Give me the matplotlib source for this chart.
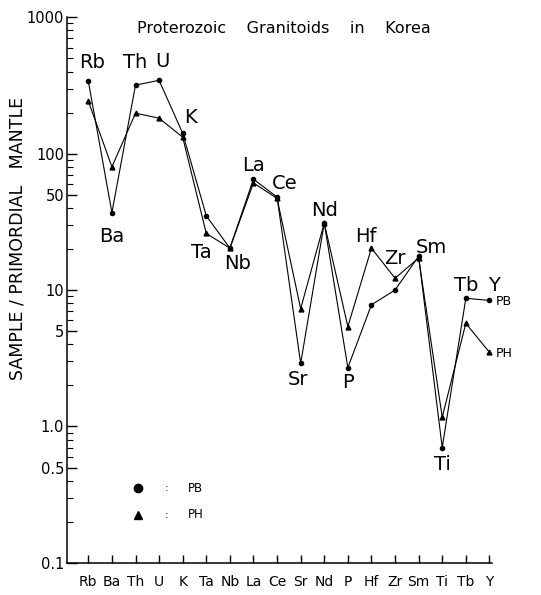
import numpy as np
import matplotlib
matplotlib.use("Agg")
import matplotlib.pyplot as plt
from matplotlib.ticker import LogLocator, FixedLocator, FixedFormatter, NullFormatter

plt.rcParams['font.family'] = ['DejaVu Sans']

# element order of the spider diagram
elements = ['Rb', 'Ba', 'Th', 'U', 'K', 'Ta', 'Nb', 'La', 'Ce',
            'Sr', 'Nd', 'P', 'Hf', 'Zr', 'Sm', 'Ti', 'Tb', 'Y']

# sample / primordial mantle
pb = [340, 37, 318, 345, 141, 35, 20.3, 65, 48,
      2.9, 31, 2.7, 7.8, 10.0, 17.7, 0.70, 8.7, 8.4]
ph = [243, 80, 198, 182, 132, 26, 20.3, 61, 47,
      7.3, 31, 5.4, 20.3, 12.2, 17.2, 1.17, 5.7, 3.5]

# label offsets (pixels) for the element names, anchored to the marked series
label_pos = {
    'Rb': (0, 4, 19), 'Ba': (0, 0, -24), 'Th': (0, 0, 23), 'U': (0, 3, 19),
    'K': (0, 8, 16), 'Ta': (1, -5, -19), 'Nb': (0, 8, -15), 'La': (0, 0, 14),
    'Ce': (0, 8, 14), 'Sr': (0, -3, -16), 'Nd': (0, 0, 13), 'P': (0, 0, -15),
    'Hf': (1, -6, 12), 'Zr': (1, 0, 20), 'Sm': (0, 13, 9), 'Ti': (0, 0, -17),
    'Tb': (0, 0, 13), 'Y': (0, 5, 15),
}

fig = plt.figure(figsize=(5.41, 5.95), dpi=100)
ax = fig.add_axes([0.124, 0.054, 0.785, 0.917])

x = np.arange(len(elements))
ax.plot(x, pb, '-', color='black', lw=0.8, marker='o', ms=3)
ax.plot(x, ph, '-', color='black', lw=0.8, marker='^', ms=3.5)

for i, el in enumerate(elements):
    which, dx, dy = label_pos[el]
    yv = pb[i] if which == 0 else ph[i]
    ax.annotate(el, (i, yv), xytext=(dx, dy), textcoords='offset pixels',
                ha='center', va='center', fontsize=14)

ax.annotate('PB', (x[-1], pb[-1]), xytext=(6, -1), textcoords='offset pixels',
            ha='left', va='center', fontsize=9)
ax.annotate('PH', (x[-1], ph[-1]), xytext=(6, -1), textcoords='offset pixels',
            ha='left', va='center', fontsize=9)

ax.set_yscale('log')
ax.set_ylim(0.1, 1000)
ax.set_xlim(-0.9, 17.1)

ax.set_xticks(x)
ax.set_xticklabels(elements, fontsize=10)
ax.tick_params(axis='x', direction='in', length=6, width=1, pad=9)

yt = [0.1, 0.5, 1.0, 5, 10, 50, 100, 1000]
ax.yaxis.set_major_locator(FixedLocator(yt))
ax.yaxis.set_major_formatter(FixedFormatter(['0.1', '0.5', '1.0', '5', '10', '50', '100', '1000']))
ax.yaxis.set_minor_locator(LogLocator(base=10, subs=np.arange(2, 10)))
ax.yaxis.set_minor_formatter(NullFormatter())
ax.tick_params(axis='y', which='major', direction='in', length=7, width=1, labelsize=10.5, pad=2)
ax.tick_params(axis='y', which='minor', direction='in', length=4, width=0.8)

for s in ['top', 'right']:
    ax.spines[s].set_visible(False)
for s in ['left', 'bottom']:
    ax.spines[s].set_linewidth(1.1)

# legend
ax.plot([0.168], [0.137], 'o', color='black', ms=6, transform=ax.transAxes, clip_on=False)
ax.plot([0.168], [0.088], '^', color='black', ms=6, transform=ax.transAxes, clip_on=False)
ax.text(0.235, 0.137, ':', transform=ax.transAxes, ha='center', va='center', fontsize=8)
ax.text(0.235, 0.088, ':', transform=ax.transAxes, ha='center', va='center', fontsize=8)
ax.text(0.285, 0.137, 'PB', transform=ax.transAxes, ha='left', va='center', fontsize=8.5)
ax.text(0.285, 0.088, 'PH', transform=ax.transAxes, ha='left', va='center', fontsize=8.5)

fig.text(0.525, 0.952, 'Proterozoic    Granitoids    in    Korea',
         ha='center', va='center', fontsize=11.5)
fig.text(0.032, 0.60, 'SAMPLE / PRIMORDIAL   MANTLE', rotation=90,
         ha='center', va='center', fontsize=12.5)

fig.savefig('out.png', dpi=100)
